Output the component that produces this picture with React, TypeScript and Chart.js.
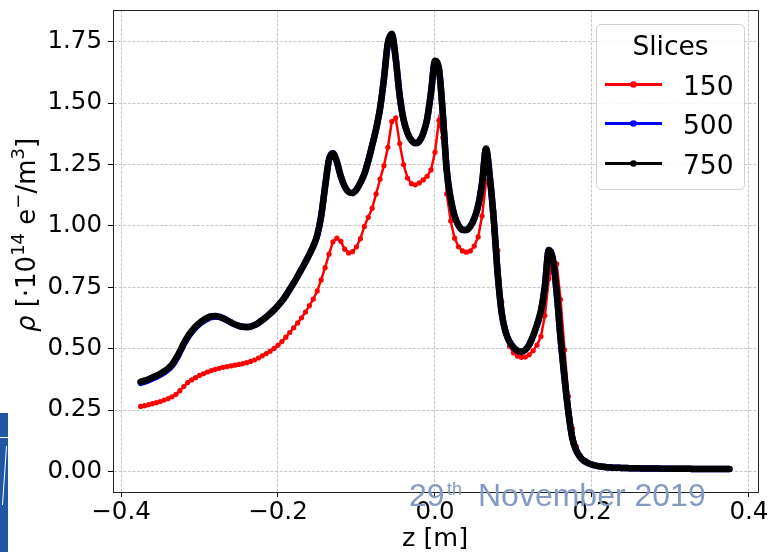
import React, { useEffect, useRef } from "react";
import { Chart, registerables } from "chart.js";

Chart.register(...registerables);

// z positions of the slices [m]
const zGrid = [
  -0.375, -0.37, -0.365, -0.36, -0.355, -0.35, -0.345, -0.34, -0.335, -0.33,
  -0.325, -0.32, -0.315, -0.31, -0.305, -0.3, -0.295, -0.29, -0.285, -0.28,
  -0.275, -0.27, -0.265, -0.26, -0.255, -0.25, -0.245, -0.24, -0.235, -0.23,
  -0.225, -0.22, -0.215, -0.21, -0.205, -0.2, -0.195, -0.19, -0.185, -0.18,
  -0.175, -0.17, -0.165, -0.16, -0.155, -0.15, -0.145, -0.14, -0.135, -0.13,
  -0.125, -0.12, -0.115, -0.11, -0.105, -0.1, -0.095, -0.09, -0.085, -0.08,
  -0.075, -0.07, -0.065, -0.06, -0.055, -0.05, -0.045, -0.04, -0.035, -0.03,
  -0.025, -0.02, -0.015, -0.01, -0.005, 0, 0.005, 0.01, 0.015, 0.02,
  0.025, 0.03, 0.035, 0.04, 0.045, 0.05, 0.055, 0.06, 0.065, 0.07,
  0.075, 0.08, 0.085, 0.09, 0.095, 0.1, 0.105, 0.11, 0.115, 0.12,
  0.125, 0.13, 0.135, 0.14, 0.145, 0.15, 0.155, 0.16, 0.165, 0.17,
  0.175, 0.18, 0.185, 0.19, 0.195, 0.2, 0.205, 0.21, 0.215, 0.22,
  0.225, 0.23, 0.235, 0.24, 0.245, 0.25, 0.255, 0.26, 0.265, 0.27,
  0.275, 0.28, 0.285, 0.29, 0.295, 0.3, 0.305, 0.31, 0.315, 0.32,
  0.325, 0.33, 0.335, 0.34, 0.345, 0.35, 0.355, 0.36, 0.365, 0.37,
  0.375,
];

// rho [1e14 e-/m^3], 150 slices
const rho150 = [
  0.265, 0.268, 0.272, 0.276, 0.28, 0.285, 0.291, 0.297, 0.304, 0.314,
  0.329, 0.346, 0.362, 0.373, 0.382, 0.391, 0.398, 0.405, 0.411, 0.416,
  0.42, 0.424, 0.427, 0.43, 0.433, 0.436, 0.439, 0.443, 0.448, 0.454,
  0.462, 0.471, 0.48, 0.49, 0.501, 0.514, 0.529, 0.547, 0.566, 0.585,
  0.605, 0.626, 0.649, 0.675, 0.702, 0.735, 0.78, 0.83, 0.885, 0.935,
  0.95, 0.937, 0.905, 0.89, 0.895, 0.915, 0.948, 0.998, 1.035, 1.072,
  1.13, 1.19, 1.245, 1.32, 1.425, 1.44, 1.335, 1.25, 1.195, 1.172,
  1.167, 1.175, 1.187, 1.202, 1.228, 1.3, 1.43, 1.36, 1.13, 1.02,
  0.95, 0.915, 0.898, 0.893, 0.898, 0.918, 0.955, 1.04, 1.18, 1.165,
  1.06, 0.9, 0.69, 0.57, 0.51, 0.483, 0.47, 0.465, 0.466, 0.475,
  0.492, 0.515, 0.55, 0.635, 0.785, 0.868, 0.845, 0.7, 0.495, 0.305,
  0.175, 0.102, 0.066, 0.047, 0.036, 0.029, 0.024, 0.021, 0.019, 0.017,
  0.016, 0.015, 0.015, 0.014, 0.014, 0.013, 0.013, 0.013, 0.012, 0.012,
  0.012, 0.012, 0.012, 0.011, 0.011, 0.011, 0.011, 0.011, 0.011, 0.011,
  0.011, 0.01, 0.01, 0.01, 0.01, 0.01, 0.01, 0.01, 0.01, 0.01,
  0.01,
];

// 500 slices
const rho500 = [
  0.361, 0.366, 0.372, 0.379, 0.386, 0.394, 0.404, 0.416, 0.432, 0.456,
  0.486, 0.518, 0.546, 0.568, 0.586, 0.601, 0.613, 0.622, 0.629, 0.63,
  0.63, 0.624, 0.616, 0.607, 0.599, 0.593, 0.589, 0.588, 0.59, 0.596,
  0.605, 0.616, 0.629, 0.643, 0.658, 0.675, 0.694, 0.716, 0.742, 0.768,
  0.795, 0.824, 0.853, 0.884, 0.918, 0.962, 1.04, 1.16, 1.27, 1.296,
  1.26, 1.202, 1.16, 1.138, 1.134, 1.148, 1.176, 1.212, 1.265, 1.328,
  1.395, 1.478, 1.6, 1.745, 1.778, 1.68, 1.53, 1.432, 1.378, 1.349,
  1.337, 1.345, 1.377, 1.435, 1.545, 1.668, 1.64, 1.455, 1.225, 1.11,
  1.04, 1.002, 0.984, 0.983, 0.998, 1.03, 1.082, 1.175, 1.312, 1.195,
  1.02, 0.8, 0.645, 0.568, 0.528, 0.505, 0.492, 0.488, 0.495, 0.516,
  0.552, 0.598, 0.655, 0.755, 0.902, 0.868, 0.73, 0.54, 0.38, 0.24,
  0.135, 0.085, 0.058, 0.043, 0.034, 0.028, 0.024, 0.021, 0.019, 0.017,
  0.016, 0.015, 0.015, 0.014, 0.014, 0.013, 0.013, 0.013, 0.012, 0.012,
  0.012, 0.012, 0.012, 0.011, 0.011, 0.011, 0.011, 0.011, 0.011, 0.011,
  0.011, 0.01, 0.01, 0.01, 0.01, 0.01, 0.01, 0.01, 0.01, 0.01,
  0.01,
];

// 750 slices
const rho750 = [
  0.365, 0.37, 0.376, 0.383, 0.39, 0.398, 0.408, 0.42, 0.436, 0.46,
  0.49, 0.522, 0.55, 0.572, 0.59, 0.605, 0.617, 0.626, 0.632, 0.633,
  0.63, 0.624, 0.616, 0.607, 0.599, 0.593, 0.589, 0.588, 0.59, 0.596,
  0.605, 0.616, 0.629, 0.643, 0.658, 0.675, 0.694, 0.716, 0.742, 0.768,
  0.795, 0.824, 0.853, 0.884, 0.918, 0.962, 1.04, 1.16, 1.27, 1.296,
  1.26, 1.202, 1.16, 1.138, 1.134, 1.148, 1.176, 1.212, 1.265, 1.328,
  1.395, 1.478, 1.6, 1.745, 1.782, 1.68, 1.53, 1.432, 1.378, 1.349,
  1.337, 1.345, 1.377, 1.435, 1.545, 1.672, 1.64, 1.455, 1.225, 1.11,
  1.04, 1.002, 0.984, 0.983, 0.998, 1.03, 1.082, 1.175, 1.315, 1.195,
  1.02, 0.8, 0.645, 0.568, 0.528, 0.505, 0.492, 0.488, 0.495, 0.516,
  0.552, 0.598, 0.655, 0.755, 0.902, 0.868, 0.73, 0.54, 0.38, 0.24,
  0.135, 0.085, 0.058, 0.043, 0.034, 0.028, 0.024, 0.021, 0.019, 0.017,
  0.016, 0.015, 0.015, 0.014, 0.014, 0.013, 0.013, 0.013, 0.012, 0.012,
  0.012, 0.012, 0.012, 0.011, 0.011, 0.011, 0.011, 0.011, 0.011, 0.011,
  0.011, 0.01, 0.01, 0.01, 0.01, 0.01, 0.01, 0.01, 0.01, 0.01,
  0.01,
];

const seriesNames = ["150", "500", "750"];
const seriesColors = ["#ff0000", "#0000ff", "#000000"];
const xTicks = [-0.4, -0.2, 0.0, 0.2, 0.4];
const yTicks = [0, 0.25, 0.5, 0.75, 1.0, 1.25, 1.5, 1.75];
const legendTitle = "Slices";
const xLabel = "z [m]";
const watermarkMain = "29";
const watermarkSup = "th";
const watermarkRest = "November 2019";

const FONT = "'DejaVu Sans', sans-serif";

const toPts = (ys: number[]) => ys.map((y, i) => ({ x: zGrid[i], y }));

const fmtX = (v: number) => {
  if (Math.abs(v) < 1e-9) return "0.0";
  const s = Math.abs(v).toFixed(1);
  return v < 0 ? "\u2212" + s : s;
};

const decorPlugin = {
  id: "decor",
  afterDatasetsDraw(chart: any) {
    const ctx: CanvasRenderingContext2D = chart.ctx;
    const ca = chart.chartArea;
    ctx.save();
    // top & right spines
    ctx.strokeStyle = "#222";
    ctx.lineWidth = 1;
    ctx.beginPath();
    ctx.moveTo(ca.left, ca.top + 0.5);
    ctx.lineTo(ca.right + 0.5, ca.top + 0.5);
    ctx.lineTo(ca.right + 0.5, ca.bottom);
    ctx.stroke();

    // legend box
    const bx = 596.5, by = 24.5, bw = 148, bh = 165, r = 5;
    ctx.beginPath();
    ctx.moveTo(bx + r, by);
    ctx.lineTo(bx + bw - r, by);
    ctx.quadraticCurveTo(bx + bw, by, bx + bw, by + r);
    ctx.lineTo(bx + bw, by + bh - r);
    ctx.quadraticCurveTo(bx + bw, by + bh, bx + bw - r, by + bh);
    ctx.lineTo(bx + r, by + bh);
    ctx.quadraticCurveTo(bx, by + bh, bx, by + bh - r);
    ctx.lineTo(bx, by + r);
    ctx.quadraticCurveTo(bx, by, bx + r, by);
    ctx.closePath();
    ctx.fillStyle = "rgba(255,255,255,0.85)";
    ctx.fill();
    ctx.strokeStyle = "#d0d0d0";
    ctx.stroke();

    ctx.fillStyle = "#000";
    ctx.font = `26.5px ${FONT}`;
    ctx.textAlign = "center";
    ctx.textBaseline = "alphabetic";
    ctx.fillText(legendTitle, 670.5, 55);

    const rowsY = [84.5, 123.5, 163.5];
    seriesNames.forEach((name, i) => {
      const y = rowsY[i];
      ctx.strokeStyle = seriesColors[i];
      ctx.lineWidth = 3;
      ctx.beginPath();
      ctx.moveTo(605, y);
      ctx.lineTo(662, y);
      ctx.stroke();
      ctx.fillStyle = seriesColors[i];
      ctx.beginPath();
      ctx.arc(633.5, y, 3.3, 0, Math.PI * 2);
      ctx.fill();
      ctx.fillStyle = "#000";
      ctx.textAlign = "left";
      ctx.font = `26.5px ${FONT}`;
      ctx.fillText(name, 683, y + 10.5);
    });
    ctx.restore();
  },
  afterDraw(chart: any) {
    const ctx: CanvasRenderingContext2D = chart.ctx;
    ctx.save();
    // y-axis label with superscripts
    const main = 26;
    const sup = 18;
    const pieces = [
      { t: "\u03c1", f: `italic ${main}px ${FONT}`, dy: 0 },
      { t: " [\u00b710", f: `${main}px ${FONT}`, dy: 0 },
      { t: "14", f: `${sup}px ${FONT}`, dy: -11 },
      { t: " e", f: `${main}px ${FONT}`, dy: 0 },
      { t: "\u2212", f: `${sup}px ${FONT}`, dy: -11 },
      { t: "/m", f: `${main}px ${FONT}`, dy: 0 },
      { t: "3", f: `${sup}px ${FONT}`, dy: -11 },
      { t: "]", f: `${main}px ${FONT}`, dy: 0 },
    ];
    let total = 0;
    const widths = pieces.map((p) => {
      ctx.font = p.f;
      const w = ctx.measureText(p.t).width;
      total += w;
      return w;
    });
    ctx.translate(35, 235);
    ctx.rotate(-Math.PI / 2);
    ctx.fillStyle = "#000";
    ctx.textAlign = "left";
    ctx.textBaseline = "alphabetic";
    let x = -total / 2;
    pieces.forEach((p, i) => {
      ctx.font = p.f;
      ctx.fillText(p.t, x, p.dy);
      x += widths[i];
    });
    ctx.setTransform(1, 0, 0, 1, 0, 0);

    // x-axis label
    ctx.font = `25.5px ${FONT}`;
    ctx.textAlign = "center";
    ctx.fillText(xLabel, 435, 546);

    // logo fragment at left edge
    ctx.fillStyle = "#2156a5";
    ctx.fillRect(0, 413, 8, 139);
    ctx.strokeStyle = "#ffffff";
    ctx.lineWidth = 1;
    ctx.beginPath();
    ctx.moveTo(0, 437.5);
    ctx.lineTo(8, 437.5);
    ctx.moveTo(6.5, 446);
    ctx.lineTo(2.5, 505);
    ctx.stroke();

    // watermark date
    ctx.fillStyle = "#8499c4";
    ctx.textAlign = "left";
    ctx.font = "32px 'Liberation Sans', Arial, sans-serif";
    ctx.fillText(watermarkMain, 409, 506);
    ctx.fillText(watermarkRest, 478, 506);
    ctx.font = "18px 'Liberation Sans', Arial, sans-serif";
    ctx.fillText(watermarkSup, 447, 495);
    ctx.restore();
  },
};

export default function App() {
  const ref = useRef<HTMLCanvasElement | null>(null);

  useEffect(() => {
    if (!ref.current) return;
    Chart.defaults.font.family = FONT;
    const chart = new Chart(ref.current, {
      type: "line",
      data: {
        datasets: [
          {
            label: seriesNames[0],
            data: toPts(rho150),
            borderColor: seriesColors[0],
            backgroundColor: seriesColors[0],
            borderWidth: 2.5,
            pointRadius: 2.6,
            pointBorderWidth: 0,
            pointBackgroundColor: seriesColors[0],
            tension: 0,
            order: 3,
          },
          {
            label: seriesNames[1],
            data: toPts(rho500),
            borderColor: seriesColors[1],
            backgroundColor: seriesColors[1],
            borderWidth: 6.5,
            pointRadius: 0,
            cubicInterpolationMode: "monotone",
            borderJoinStyle: "round",
            borderCapStyle: "round",
            order: 2,
          },
          {
            label: seriesNames[2],
            data: toPts(rho750),
            borderColor: seriesColors[2],
            backgroundColor: seriesColors[2],
            borderWidth: 6.5,
            pointRadius: 0,
            cubicInterpolationMode: "monotone",
            borderJoinStyle: "round",
            borderCapStyle: "round",
            order: 1,
          },
        ] as any,
      },
      options: {
        animation: false,
        responsive: false,
        maintainAspectRatio: false,
        parsing: false as any,
        layout: { padding: { left: 0, right: 13, top: 10, bottom: 0 } },
        plugins: {
          legend: { display: false },
          tooltip: { enabled: false },
        },
        scales: {
          x: {
            type: "linear",
            min: -0.4102,
            max: 0.4115,
            afterBuildTicks: (s: any) => {
              s.ticks = xTicks.map((v) => ({ value: v }));
            },
            afterFit: (s: any) => {
              s.height = 60;
              s.paddingLeft = 0;
              s.paddingRight = 0;
            },
            ticks: {
              callback: (v: any) => fmtX(Number(v)),
              color: "#000",
              font: { family: FONT, size: 24.5 },
              padding: 1,
              maxRotation: 0,
              autoSkip: false,
            },
            grid: {
              color: "#b8b8b8",
              lineWidth: 0.8,
              tickLength: 5,
              tickColor: "#000",
              tickWidth: 1,
            },
            border: { display: true, color: "#222", width: 1, dash: [3, 1.6] },
          },
          y: {
            type: "linear",
            min: -0.0835,
            max: 1.879,
            afterBuildTicks: (s: any) => {
              s.ticks = yTicks.map((v) => ({ value: v }));
            },
            afterFit: (s: any) => {
              s.width = 113;
              s.paddingTop = 0;
              s.paddingBottom = 0;
            },
            ticks: {
              callback: (v: any) => Number(v).toFixed(2),
              color: "#000",
              font: { family: FONT, size: 24.5 },
              padding: 6,
              autoSkip: false,
            },
            grid: {
              color: "#b8b8b8",
              lineWidth: 0.8,
              tickLength: 5,
              tickColor: "#000",
              tickWidth: 1,
            },
            border: { display: true, color: "#222", width: 1, dash: [3, 1.6] },
          },
        },
      },
      plugins: [decorPlugin],
    });
    return () => chart.destroy();
  }, []);

  return (
    <div style={{ position: "fixed", left: 0, top: 0, width: 771, height: 552, background: "#fff" }}>
      <canvas ref={ref} width={771} height={552} style={{ display: "block", width: 771, height: 552 }} />
    </div>
  );
}
